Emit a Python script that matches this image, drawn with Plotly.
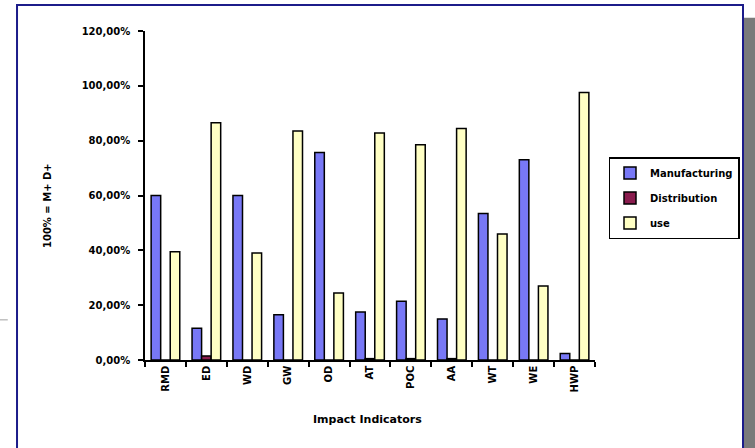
import plotly.graph_objects as go

categories = ["RMD", "ED", "WD", "GW", "OD", "AT", "POC", "AA", "WT", "WE", "HWP"]
manufacturing = [60.0, 11.6, 60.0, 16.5, 75.7, 17.5, 21.4, 15.0, 53.4, 73.0, 2.4]
distribution = [0.0, 1.5, 0.0, 0.0, 0.0, 0.5, 0.5, 0.5, 0.0, 0.0, 0.0]
use = [39.5, 86.5, 39.0, 83.5, 24.4, 82.8, 78.5, 84.4, 46.0, 27.0, 97.6]
y_tick_vals = [0, 20, 40, 60, 80, 100, 120]
y_tick_text = ["0,00%", "20,00%", "40,00%", "60,00%", "80,00%", "100,00%", "120,00%"]

FONT = "DejaVu Sans"
line = dict(color="black", width=1.5)

fig = go.Figure()
fig.add_trace(go.Bar(name="Manufacturing", x=categories, y=manufacturing,
                     marker=dict(color="#7878f6", line=line), legendgroup="m"))
fig.add_trace(go.Bar(name="Distribution", x=categories, y=distribution,
                     marker=dict(color="#8a1c4e", line=line), legendgroup="d"))
fig.add_trace(go.Bar(name="use", x=categories, y=use,
                     marker=dict(color="#ffffc4", line=line), legendgroup="u"))

fig.update_layout(
    width=755, height=448,
    margin=dict(l=145, r=160, t=31, b=88, autoexpand=False),
    paper_bgcolor="white", plot_bgcolor="white",
    barmode="group", bargap=0.3, bargroupgap=0,
    font=dict(family=FONT, size=10, color="black", weight="bold"),
    showlegend=True,
    legend=dict(x=1.03, y=0.617, xanchor="left", yanchor="top",
                bordercolor="black", borderwidth=1.5, bgcolor="white",
                font=dict(family=FONT, size=10, weight="bold"), tracegroupgap=6,
                traceorder="grouped", itemwidth=30),
)
fig.update_xaxes(showline=True, linecolor="black", linewidth=1.5,
                 ticks="outside", ticklen=5, tickwidth=1.5, tickcolor="black",
                 tickson="boundaries", tickangle=-90, showgrid=False,
                 automargin=False,
                 tickfont=dict(family=FONT, size=10, weight="bold"))
fig.update_yaxes(range=[0, 120], showline=True, linecolor="black", linewidth=1.5,
                 ticks="outside", ticklen=5, tickwidth=1.5, tickcolor="black",
                 tickvals=y_tick_vals, ticktext=y_tick_text, showgrid=False,
                 zeroline=False, automargin=False, ticklabelstandoff=6,
                 tickfont=dict(family=FONT, size=10, weight="bold"))

fig.add_annotation(text="100% = M+ D+", xref="paper", yref="paper",
                   x=-0.233, y=0.47, textangle=-90, showarrow=False,
                   font=dict(family=FONT, size=10, weight="bold"))
fig.add_annotation(text="Impact Indicators", xref="paper", yref="paper",
                   x=0.495, y=-0.206, showarrow=False,
                   font=dict(family=FONT, size=11, weight="bold"))

# outer frame and shadow
fig.add_shape(type="rect", xref="paper", yref="paper",
              x0=1.331, x1=1.36, y0=-0.3, y1=1.04,
              fillcolor="#7a7a7a", line=dict(width=0), layer="below")
fig.add_shape(type="rect", xref="paper", yref="paper",
              x0=-0.2844, x1=1.3289, y0=-0.3, y1=1.079,
              fillcolor="rgba(0,0,0,0)", line=dict(color="#1c1c8a", width=2))
fig.add_shape(type="line", xref="paper", yref="paper",
              x0=-0.33, x1=-0.305, y0=0.122, y1=0.122,
              line=dict(color="#a0a0a0", width=1))

fig.write_html("out.html", config={"displayModeBar": False},
               post_script="document.body.style.margin='0';")
